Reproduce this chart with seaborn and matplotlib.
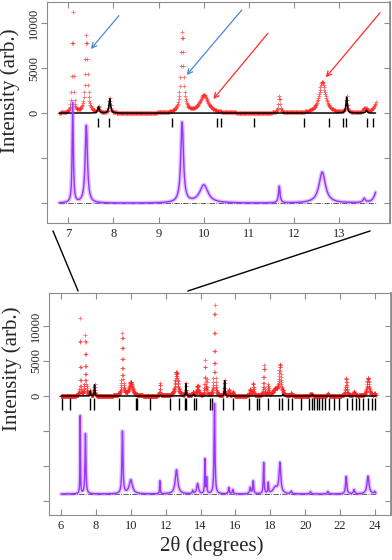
import numpy as np
import pandas as pd
import matplotlib
matplotlib.use("Agg")
import matplotlib.pyplot as plt
import seaborn as sns
from matplotlib.patches import ConnectionPatch

# Peaks seen only in the observed pattern (not fitted): position (deg), height, FWHM
obs_pos = [7.10, 7.40, 9.52, 10.00, 11.67, 12.62, 13.55, 13.83, 14.25, 14.35, 14.80,
           15.62, 15.85, 16.85, 17.02, 17.62, 17.88, 18.28, 18.55, 19.20, 20.30,
           21.30, 22.35, 22.80, 23.60, 23.98]
obs_height = [11100, 8600, 8900, 2000, 1850, 3450, 450, 1450, 4900, 2200, 12900,
              900, 600, 900, 1800, 4400, 1500, 900, 4300, 350, 300,
              350, 2500, 600, 2550, 300]
obs_fwhm = [0.03, 0.06, 0.07, 0.22, 0.04, 0.17, 0.06, 0.12, 0.04, 0.04, 0.06,
            0.06, 0.06, 0.08, 0.06, 0.05, 0.05, 0.30, 0.12, 0.08, 0.08,
            0.08, 0.08, 0.08, 0.14, 0.08]

# Peaks of the refined phase (calculated profile)
calc_pos = [7.67, 7.92, 13.16, 13.60, 15.38, 18.72, 20.40]
calc_height = [700, 1600, 1750, 300, 2200, 250, 200]
calc_fwhm = [0.04, 0.04, 0.035, 0.04, 0.04, 0.05, 0.05]

# Reflection positions (tick marks)
hkl_pos = [6.05, 6.54, 7.66, 7.91, 9.30, 10.30, 10.38, 11.12, 12.22, 12.77, 13.09,
           13.15, 13.60, 13.74, 14.52, 14.67, 15.30, 15.87, 16.79, 17.21, 17.36,
           17.84, 18.47, 18.66, 19.04, 19.27, 19.75, 20.22, 20.41, 20.51, 20.66,
           20.80, 20.95, 21.14, 21.37, 21.66, 21.94, 22.42, 22.67, 22.90, 23.09,
           23.32, 23.62, 23.85, 24.00]


def profile(x, pos, height, fwhm):
    y = np.zeros_like(x)
    for p, h, w in zip(pos, height, fwhm):
        y += h / (1 + ((x - p) / (w / 2)) ** 2)
    return y


two_theta = np.round(np.arange(6.0, 24.055, 0.01), 3)
calc = profile(two_theta, calc_pos, calc_height, calc_fwhm)
obs = calc + profile(two_theta, obs_pos, obs_height, obs_fwhm)
df = pd.DataFrame({"tth": two_theta, "obs": obs, "calc": calc, "diff": obs - calc})

sns.set_theme(style="ticks")
plt.rcParams["font.family"] = ["Liberation Serif", "DejaVu Serif"]
plt.rcParams["axes.edgecolor"] = "#8c8c8c"

fig = plt.figure(figsize=(3.92, 5.6), dpi=100)
ax_top = fig.add_axes([47 / 392, 1 - 223 / 560, 343 / 392, 221 / 560])
ax_bot = fig.add_axes([49 / 392, 1 - 515 / 560, 342 / 392, 222 / 560])

panels = [
    dict(ax=ax_top, lo=6.8, hi=13.8, offset=-10000, tick_y=(-600, -1550),
         xlim=(6.53, 14.12), ylim=(-12200, 12330), xticks=list(range(7, 14)),
         yticks=[-10000, -5000, 0, 5000, 10000], ylab_y=0.60),
    dict(ax=ax_bot, lo=6.0, hi=24.05, offset=-14000, tick_y=(-300, -2000),
         xlim=(5.31, 24.92), ylim=(-17000, 14710), xticks=list(range(6, 25, 2)),
         yticks=[-15000, -10000, -5000, 0, 5000, 10000], ylab_y=0.66),
]

for p in panels:
    ax = p["ax"]
    d = df[(df.tth >= p["lo"]) & (df.tth <= p["hi"])]
    sns.scatterplot(x=d.tth, y=d.obs, ax=ax, marker="+", s=7, color="#ff2222",
                    linewidth=0.7, alpha=0.6, zorder=2, legend=False)
    sns.lineplot(x=d.tth, y=d.calc, ax=ax, color="black", lw=1.1,
                 estimator=None, sort=False, zorder=3)
    ax.plot([d.tth.iloc[0], d.tth.iloc[-1]], [p["offset"]] * 2, ls="-.",
            color="#444444", lw=0.6, zorder=3)
    sns.lineplot(x=d.tth, y=d["diff"] + p["offset"], ax=ax, color="#a855ff",
                 lw=3.0, alpha=0.35, estimator=None, sort=False, zorder=4)
    sns.lineplot(x=d.tth, y=d["diff"] + p["offset"], ax=ax, color="#9933ff",
                 lw=1.0, estimator=None, sort=False, zorder=4)
    ticks = [t for t in hkl_pos if p["lo"] - 0.01 <= t <= p["hi"]]
    ax.vlines(ticks, p["tick_y"][1], p["tick_y"][0], color="black", lw=1.0, zorder=3)

    ax.set_xlim(*p["xlim"])
    ax.set_ylim(*p["ylim"])
    ax.set_xticks(p["xticks"])
    ax.set_yticks(p["yticks"])
    ax.set_yticklabels([str(v) if v >= 0 else "" for v in p["yticks"]])
    ax.set_xlabel("")
    ax.set_ylabel("Intensity (arb.)", fontsize=15)
    ax.yaxis.set_label_coords(-0.078, p["ylab_y"])
    ax.tick_params(axis="x", direction="in", length=4, width=0.8, color="#8c8c8c",
                   labelsize=9, pad=3.5, top=True)
    ax.tick_params(axis="y", direction="out", length=4, width=0.8, color="#8c8c8c",
                   labelsize=9, pad=1, labelrotation=90)
    for lab in ax.get_yticklabels():
        lab.set_va("center")
    sec = ax.secondary_yaxis("right")
    sec.set_yticks(p["yticks"])
    sec.set_yticklabels([""] * len(p["yticks"]))
    sec.tick_params(direction="in", length=4, width=0.8, color="#8c8c8c")
    for s in ax.spines.values():
        s.set_linewidth(0.8)

ax_bot.set_xlabel("2θ (degrees)", fontsize=15)
ax_bot.xaxis.set_label_coords(0.476, -0.095)

# Arrows marking the peaks in the zoomed panel
arrow_tail = [(8.12, 10810), (10.84, 11440), (11.42, 8860), (13.90, 11140)]
arrow_head = [(7.50, 7110), (9.62, 4220), (10.21, 1560), (12.70, 3970)]
arrow_color = ["#4f86cc", "#4f86cc", "#ff2a2a", "#ff2a2a"]
for t, h, c in zip(arrow_tail, arrow_head, arrow_color):
    ax_top.annotate("", xy=h, xytext=t,
                    arrowprops=dict(arrowstyle="->", color=c, lw=0.9,
                                    mutation_scale=9, shrinkA=0, shrinkB=0))

# Lines linking the zoomed region
for a, b in [((0.0175, -0.036), (0.085, 1.009)), ((0.942, -0.036), (0.406, 1.009))]:
    con = ConnectionPatch(xyA=a, coordsA=ax_top.transAxes, xyB=b,
                          coordsB=ax_bot.transAxes, color="black", lw=1.0)
    fig.add_artist(con)

fig.savefig("out.png", dpi=100, facecolor="white")
